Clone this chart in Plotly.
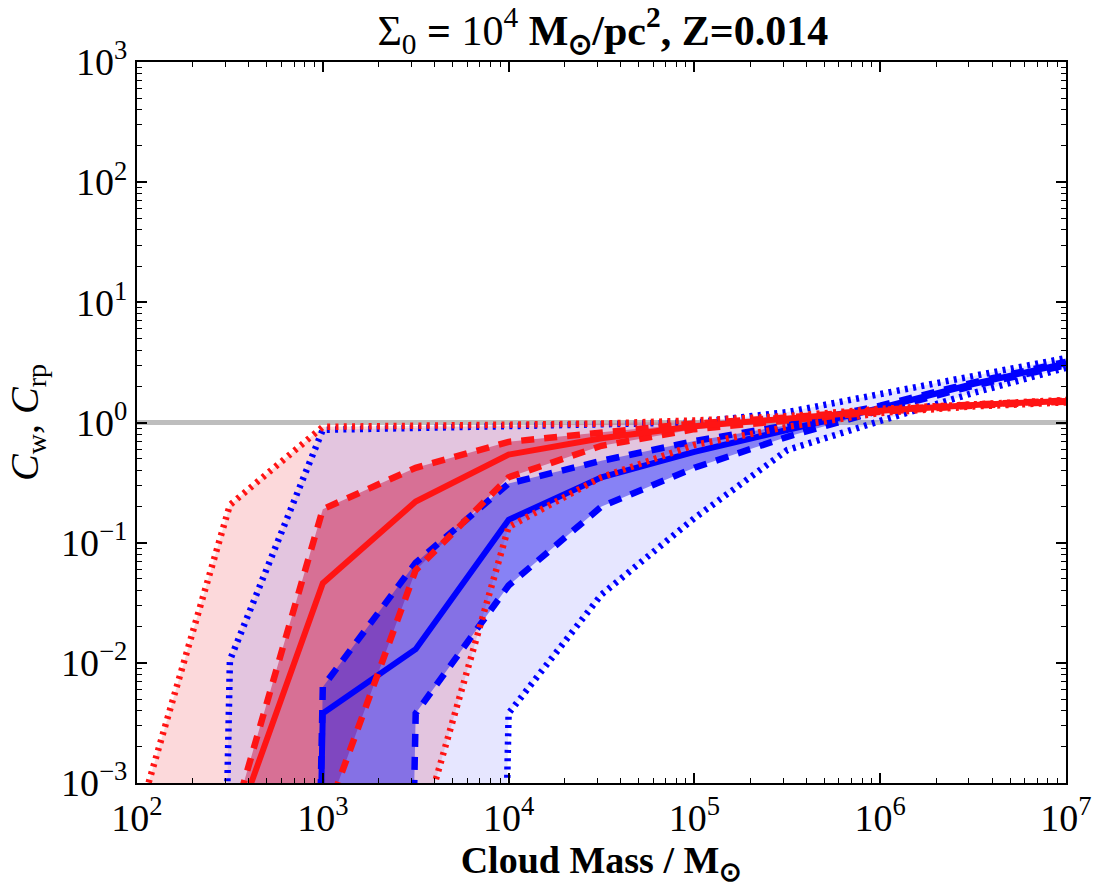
import plotly.graph_objects as go

# ---- data ----
MASS = [1e2, 10**2.5, 1e3, 10**3.5, 1e4, 10**4.5, 1e5, 10**5.5, 1e6, 10**6.5, 1e7]

# red family (C_rp): min, 25th, median, 75th, max
RED_MIN = [0, 0, 0, 2.8e-4, 0.135, 0.35, 0.65, 0.92, 1.20, 1.36, 1.47]
RED_Q25 = [0, 0, 4.5e-4, 0.059, 0.35, 0.64, 0.88, 1.05, 1.23, 1.38, 1.49]
RED_MED = [0, 3.2e-4, 0.046, 0.22, 0.54, 0.74, 0.93, 1.08, 1.25, 1.40, 1.51]
RED_Q75 = [0, 4e-4, 0.19, 0.42, 0.69, 0.83, 0.98, 1.10, 1.27, 1.41, 1.52]
RED_MAX = [4.7e-4, 0.206, 0.92, 0.93, 0.95, 0.98, 1.04, 1.13, 1.30, 1.43, 1.54]

# blue family (C_w): min, 25th, median, 75th, max
BLUE_MIN = [0, 0, 0, 0, 0.0038, 0.037, 0.16, 0.59, 1.03, 1.76, 2.85]
BLUE_Q25 = [0, 0, 0, 0.0038, 0.044, 0.20, 0.42, 0.76, 1.26, 2.02, 3.0]
BLUE_MED = [0, 0, 0.0038, 0.013, 0.155, 0.35, 0.57, 0.87, 1.32, 2.09, 3.1]
BLUE_Q75 = [0, 0, 0.0063, 0.068, 0.31, 0.48, 0.70, 0.95, 1.38, 2.15, 3.2]
BLUE_MAX = [0, 0.0105, 0.87, 0.90, 0.93, 0.96, 1.0, 1.22, 1.72, 2.44, 3.44]

REF_LEVEL = 1.0

X_TICKS = [1e2, 1e3, 1e4, 1e5, 1e6, 1e7]
X_TICKTEXT = ["10<sup>2</sup>", "10<sup>3</sup>", "10<sup>4</sup>", "10<sup>5</sup>",
              "10<sup>6</sup>", "10<sup>7</sup>"]
Y_TICKS = [1e-3, 1e-2, 1e-1, 1e0, 1e1, 1e2, 1e3]
Y_TICKTEXT = ["10<sup>\u22123</sup>", "10<sup>\u22122</sup>", "10<sup>\u22121</sup>",
              "10<sup>0</sup>", "10<sup>1</sup>", "10<sup>2</sup>", "10<sup>3</sup>"]

# zeros cannot be shown on a log axis; map them far below the axis so the
# curves drop vertically like in the original
FLOOR = 1e-40


def fl(vals):
    return [v if v > 0 else FLOOR for v in vals]


FONT = "Liberation Serif"
RED = "rgb(255,20,20)"
BLUE = "rgb(0,0,255)"

fig = go.Figure()

# reference line at 1
fig.add_trace(go.Scatter(x=[MASS[0], MASS[-1]], y=[REF_LEVEL, REF_LEVEL], mode="lines",
                         line=dict(color="rgb(190,190,190)", width=5), hoverinfo="skip",
                         showlegend=False))


def band(lo, hi, color):
    fig.add_trace(go.Scatter(x=MASS, y=fl(lo), mode="lines", line=dict(width=0),
                             showlegend=False, hoverinfo="skip"))
    fig.add_trace(go.Scatter(x=MASS, y=fl(hi), mode="lines", line=dict(width=0),
                             fill="tonexty", fillcolor=color, showlegend=False,
                             hoverinfo="skip"))


# shaded bands
band(RED_MIN, RED_MAX, "rgba(240,45,55,0.18)")
band(RED_Q25, RED_Q75, "rgba(225,30,55,0.52)")
band(BLUE_MIN, BLUE_MAX, "rgba(60,60,255,0.13)")
band(BLUE_Q25, BLUE_Q75, "rgba(40,30,235,0.5)")


def line(vals, color, style):
    if style == "solid":
        ln = dict(color=color, width=6)
    elif style == "dash":
        ln = dict(color=color, width=6.5, dash="13px,10px")
    else:
        ln = dict(color=color, width=6.5, dash="3px,5.3px")
    fig.add_trace(go.Scatter(x=MASS, y=fl(vals), mode="lines", line=ln,
                             showlegend=False, hoverinfo="skip"))


for vals, st in [(BLUE_MIN, "dot"), (BLUE_MAX, "dot"), (BLUE_Q25, "dash"),
                 (BLUE_Q75, "dash"), (BLUE_MED, "solid")]:
    line(vals, BLUE, st)
for vals, st in [(RED_MIN, "dot"), (RED_MAX, "dot"), (RED_Q25, "dash"),
                 (RED_Q75, "dash"), (RED_MED, "solid")]:
    line(vals, RED, st)

axis_common = dict(
    type="log", showline=True, linecolor="black", linewidth=2, mirror="allticks",
    ticks="inside", ticklen=10, tickwidth=1.5, tickcolor="black", showgrid=False,
    zeroline=False, tickmode="array",
    tickfont=dict(family=FONT, size=38, color="black"),
    minor=dict(ticks="inside", ticklen=5, tickwidth=1, tickcolor="black", dtick="D1",
               showgrid=False),
)

fig.update_xaxes(**axis_common, range=[2, 7], tickvals=X_TICKS, ticktext=X_TICKTEXT,
                 title=dict(text="<b>Cloud Mass / M<sub>\u2299</sub></b>",
                            font=dict(family=FONT, size=38, color="black"), standoff=4))
fig.update_yaxes(**axis_common, range=[-3, 3], tickvals=Y_TICKS, ticktext=Y_TICKTEXT,
                 title=dict(text="<i>C</i><sub>w</sub>, <i>C</i><sub>rp</sub>",
                            font=dict(family=FONT, size=40, color="black"), standoff=10))

fig.update_layout(
    width=1106, height=887,
    margin=dict(l=137, r=40, t=62, b=104),
    paper_bgcolor="white", plot_bgcolor="white",
    title=dict(text="\u03a3<sub>0</sub> <b>=</b> 10<sup>4</sup> <b>M<sub>\u2299</sub>/pc<sup>2</sup>, Z=0.014</b>",
               x=0.545, xanchor="center", y=0.966, yanchor="middle",
               font=dict(family=FONT, size=42, color="black")),
    showlegend=False,
)

fig.write_html("out.html")
